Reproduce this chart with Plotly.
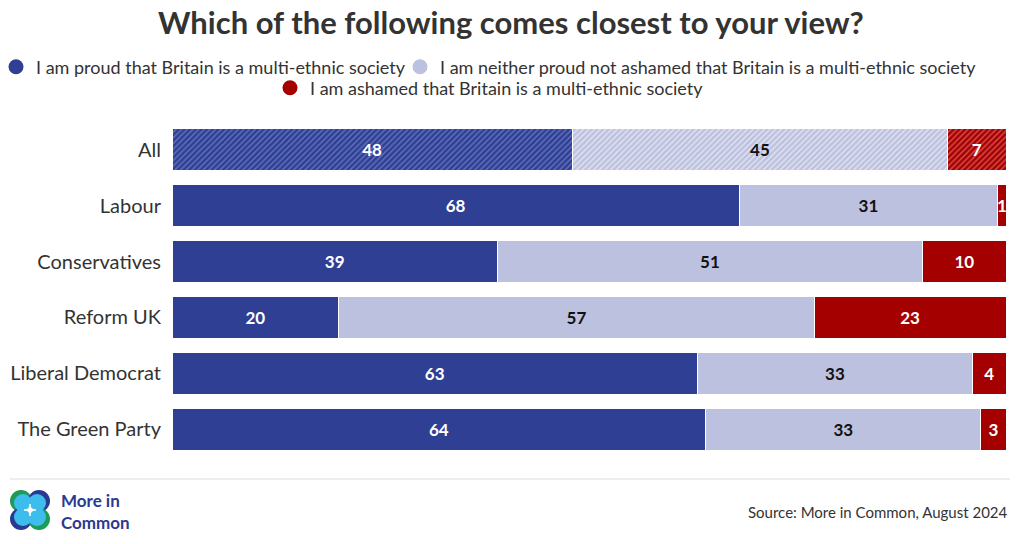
import plotly.graph_objects as go

categories = ["All", "Labour", "Conservatives", "Reform UK", "Liberal Democrat", "The Green Party"]
proud = [48, 68, 39, 20, 63, 64]
neither = [45, 31, 51, 57, 33, 33]
ashamed = [7, 1, 10, 23, 4, 3]
series_names = [
    "I am proud that Britain is a multi-ethnic society",
    "I am neither proud not ashamed that Britain is a multi-ethnic society",
    "I am ashamed that Britain is a multi-ethnic society",
]
title_text = "Which of the following comes closest to your view?"
source_text = "Source: More in Common, August 2024"

C_BLUE = "#2E3F94"
C_LIGHT = "#BCC1DF"
C_RED = "#A50000"

W, H = 1020, 544
L, R, T, B = 172, 14, 122, 87
PW, PH = W - L - R, H - T - B


def px(x):
    return (x - L) / PW


def py(y):
    return (H - B - y) / PH


FONT = "Lato"

fig = go.Figure()

specs = [
    (proud, C_BLUE, "#6674BE", "white"),
    (neither, C_LIGHT, "#E4E6F3", "#111111"),
    (ashamed, C_RED, "#D9534F", "white"),
]
for vals, col, hatch, tcol in specs:
    patt_shape = ["/" if c == "All" else "" for c in categories]
    fig.add_trace(go.Bar(
        y=categories, x=vals, orientation="h",
        marker=dict(
            color=col,
            line=dict(color="white", width=1),
            pattern=dict(shape=patt_shape, fgcolor=hatch, bgcolor=col,
                         size=4, solidity=0.35, fillmode="replace"),
        ),
        text=[str(v) for v in vals],
        textposition="inside", insidetextanchor="middle",
        constraintext="none", cliponaxis=False,
        textfont=dict(family=FONT, size=17, color=tcol, weight="bold"),
        showlegend=False, hoverinfo="skip",
    ))

# legend proxies, one legend per item so they sit where the reference has them
legend_ids = ["legend", "legend2", "legend3"]
for name, col, lid in zip(series_names, [C_BLUE, C_LIGHT, C_RED], legend_ids):
    fig.add_trace(go.Scatter(
        x=[None], y=[None], mode="markers", name=name,
        marker=dict(symbol="circle", size=15, color=col),
        legend=lid,
    ))

shapes = [
    dict(type="line", xref="paper", yref="paper", x0=px(10), x1=px(1010),
         y0=py(479), y1=py(479), line=dict(color="#DDDDDD", width=1)),
]
# logo
cx, cy, r = 30, 510, 11
logo = [
    (cx - 9, cy - 9, "#1E9B57"), (cx + 9, cy - 9, "#2B3990"),
    (cx - 9, cy + 9, "#2B3990"), (cx + 9, cy + 9, "#1E9B57"),
]
for (x, y, c) in logo:
    shapes.append(dict(type="circle", xref="paper", yref="paper",
                       x0=px(x - r), x1=px(x + r), y0=py(y + r), y1=py(y - r),
                       fillcolor=c, line=dict(width=0)))
for (x, y, c) in logo:
    dx = 2 if x < cx else -2
    dy = 2 if y < cy else -2
    shapes.append(dict(type="circle", xref="paper", yref="paper",
                       x0=px(x + dx - 9), x1=px(x + dx + 9),
                       y0=py(y + dy + 9), y1=py(y + dy - 9),
                       fillcolor="#3DBDEB", line=dict(width=0)))
d = 6
shapes.append(dict(type="path", xref="paper", yref="paper",
                   path="M {} {} Q {} {} {} {} Q {} {} {} {} Q {} {} {} {} Q {} {} {} {} Z".format(
                       px(cx), py(cy - d),
                       px(cx), py(cy), px(cx + d), py(cy),
                       px(cx), py(cy), px(cx), py(cy + d),
                       px(cx), py(cy), px(cx - d), py(cy),
                       px(cx), py(cy), px(cx), py(cy - d)),
                   fillcolor="white", line=dict(color="white", width=1)))

annotations = [
    dict(text="<b>" + title_text + "</b>", xref="paper", yref="paper",
         x=px(511), y=py(22), xanchor="center", yanchor="middle", showarrow=False,
         font=dict(family=FONT, size=31, color="#333333")),
    dict(text=source_text, xref="paper", yref="paper", x=px(1010), y=py(512),
         xanchor="right", yanchor="middle", showarrow=False,
         font=dict(family=FONT, size=15, color="#333333")),
    dict(text="<b>More in<br>Common</b>", xref="paper", yref="paper", x=px(59), y=py(511),
         xanchor="left", yanchor="middle", align="left", showarrow=False,
         font=dict(family=FONT, size=17, color="#2B3990")),
]

leg_common = dict(orientation="h", xanchor="left", yanchor="middle",
                  font=dict(family=FONT, size=18, color="#333333"),
                  itemwidth=30, bgcolor="rgba(0,0,0,0)", borderwidth=0)

fig.update_layout(
    width=W, height=H,
    margin=dict(l=L, r=R, t=T, b=B, autoexpand=False),
    paper_bgcolor="white", plot_bgcolor="white",
    barmode="stack", bargap=0.25,
    font=dict(family=FONT, color="#333333"),
    xaxis=dict(range=[0, 100], visible=False, fixedrange=True),
    yaxis=dict(autorange="reversed", showgrid=False, zeroline=False,
               tickfont=dict(family=FONT, size=20, color="#333333"),
               ticklabelstandoff=10, showline=False, ticks=""),
    legend=dict(x=px(-4), y=py(67), **leg_common),
    legend2=dict(x=px(400), y=py(67), **leg_common),
    legend3=dict(x=px(270), y=py(88), **leg_common),
    shapes=shapes,
    annotations=annotations,
)

fig.write_html("out.html", config={"displayModeBar": False},
               post_script="document.body.style.margin='0';")
